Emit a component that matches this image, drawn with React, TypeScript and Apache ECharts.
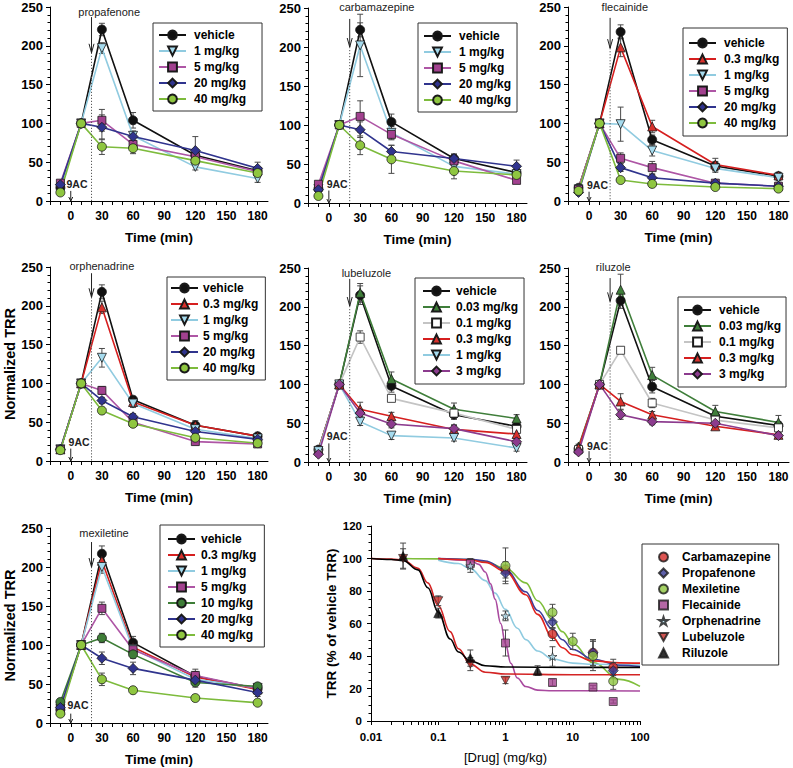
import React, { useEffect, useRef } from 'react';
import * as echarts from 'echarts';

// ---------- DATA ----------
const timePoints = [-10, 10, 30, 60, 120, 180];
const timeTickLabels = [0, 30, 60, 90, 120, 150, 180];
const timeTicks = [-20, -10, 0, 10, 20, 30, 40, 50, 60, 70, 80, 90, 100, 110, 120, 130, 140, 150, 160, 170, 180];

const propafenoneGroups = ['vehicle', '1 mg/kg', '5 mg/kg', '20 mg/kg', '40 mg/kg'];
const propafenoneValues = [
  [17, 100, 221, 104, 59, 39],
  [16, 100, 197, 84, 44, 29],
  [23, 100, 104, 73, 57, 38],
  [21, 100, 95, 83, 65, 42],
  [11, 100, 70, 68, 52, 36],
];
const propafenoneErrors = [
  [3, 0, 8, 10, 5, 5],
  [3, 0, 7, 6, 4, 5],
  [3, 0, 14, 7, 5, 5],
  [3, 0, 16, 7, 18, 8],
  [3, 0, 10, 7, 5, 5],
];

const carbamazepineGroups = ['vehicle', '1 mg/kg', '5 mg/kg', '20 mg/kg', '40 mg/kg'];
const carbamazepineValues = [
  [18, 100, 222, 104, 57, 39],
  [18, 100, 202, 90, 47, 37],
  [24, 100, 111, 88, 54, 29],
  [17, 100, 94, 66, 57, 47],
  [9, 100, 74, 56, 41, 36],
];
const carbamazepineErrors = [
  [3, 0, 9, 10, 6, 5],
  [3, 0, 40, 8, 5, 5],
  [3, 0, 20, 7, 5, 4],
  [3, 0, 10, 8, 5, 8],
  [3, 0, 12, 18, 10, 5],
];

const flecainideGroups = ['vehicle', '0.3 mg/kg', '1 mg/kg', '5 mg/kg', '20 mg/kg', '40 mg/kg'];
const flecainideValues = [
  [17, 100, 218, 79, 45, 32],
  [16, 100, 198, 96, 47, 33],
  [15, 100, 99, 65, 42, 30],
  [15, 100, 55, 43, 23, 19],
  [11, 100, 43, 30, 23, 19],
  [13, 100, 27, 22, 18, 16],
];
const flecainideErrors = [
  [3, 0, 9, 6, 6, 4],
  [3, 0, 12, 8, 8, 4],
  [3, 0, 22, 7, 5, 4],
  [3, 0, 7, 8, 3, 3],
  [3, 0, 5, 4, 3, 3],
  [3, 0, 3, 4, 3, 3],
];

const orphenadrineGroups = ['vehicle', '0.3 mg/kg', '1 mg/kg', '5 mg/kg', '20 mg/kg', '40 mg/kg'];
const orphenadrineValues = [
  [15, 100, 218, 79, 46, 32],
  [15, 100, 198, 76, 46, 32],
  [15, 100, 133, 74, 41, 29],
  [15, 100, 91, 50, 25, 22],
  [15, 100, 78, 57, 38, 28],
  [14, 100, 65, 48, 30, 23],
];
const orphenadrineErrors = [
  [3, 0, 9, 4, 4, 3],
  [3, 0, 8, 4, 6, 3],
  [3, 0, 12, 5, 4, 3],
  [3, 0, 5, 4, 4, 3],
  [3, 0, 4, 4, 4, 3],
  [3, 0, 4, 4, 4, 3],
];

const lubeluzoleGroups = ['vehicle', '0.03 mg/kg', '0.1 mg/kg', '0.3 mg/kg', '1 mg/kg', '3 mg/kg'];
const lubeluzoleValues = [
  [16, 100, 215, 98, 61, 46],
  [16, 100, 218, 107, 68, 56],
  [15, 100, 161, 82, 63, 42],
  [15, 100, 68, 59, 42, 36],
  [14, 100, 52, 34, 31, 18],
  [10, 100, 63, 49, 43, 26],
];
const lubeluzoleErrors = [
  [3, 0, 12, 8, 6, 5],
  [3, 0, 12, 9, 8, 5],
  [3, 0, 8, 4, 5, 5],
  [3, 0, 9, 5, 5, 4],
  [3, 0, 5, 5, 4, 4],
  [3, 0, 5, 5, 5, 4],
];

const riluzoleGroups = ['vehicle', '0.03 mg/kg', '0.1 mg/kg', '0.3 mg/kg', '3 mg/kg'];
const riluzoleValues = [
  [17, 100, 208, 97, 59, 47],
  [20, 100, 222, 112, 65, 51],
  [16, 100, 144, 76, 54, 44],
  [18, 100, 78, 61, 46, 35],
  [13, 100, 61, 52, 50, 34],
];
const riluzoleErrors = [
  [3, 0, 10, 8, 6, 5],
  [3, 0, 20, 10, 8, 9],
  [3, 0, 4, 6, 5, 5],
  [3, 0, 10, 4, 4, 3],
  [3, 0, 6, 4, 5, 3],
];

const mexiletineGroups = ['vehicle', '0.3 mg/kg', '1 mg/kg', '5 mg/kg', '10 mg/kg', '20 mg/kg', '40 mg/kg'];
const mexiletineValues = [
  [17, 100, 217, 103, 60, 44],
  [17, 100, 208, 97, 59, 43],
  [18, 100, 200, 95, 56, 45],
  [18, 100, 147, 94, 61, 44],
  [27, 100, 109, 88, 52, 47],
  [20, 100, 83, 70, 55, 39],
  [12, 100, 56, 42, 32, 26],
];
const mexiletineErrors = [
  [3, 0, 10, 8, 6, 4],
  [3, 0, 8, 6, 6, 4],
  [3, 0, 8, 6, 6, 4],
  [3, 0, 8, 6, 8, 4],
  [3, 0, 6, 5, 6, 4],
  [3, 0, 8, 8, 6, 5],
  [3, 0, 8, 4, 4, 3],
];

// dose-response points
const drugNames = ['Carbamazepine', 'Propafenone', 'Mexiletine', 'Flecainide', 'Orphenadrine', 'Lubeluzole', 'Riluzole'];
const carbamazepineDoses = [1, 5, 20, 40];
const carbamazepineTRR = [93, 53.5, 42, 33];
const carbamazepineSEM = [5, 4, 8, 5];
const propafenoneDoses = [1, 5, 20, 40];
const propafenoneTRR = [91, 61, 42, 31];
const propafenoneSEM = [5, 4, 8, 5];
const mexiletineDoses = [1, 5, 10, 20, 40];
const mexiletineTRR = [95.5, 66.8, 49, 40, 24.5];
const mexiletineSEM = [11, 5, 5, 9, 5];
const flecainideDoses = [0.3, 1, 5, 20, 40];
const flecainideTRR = [97, 48, 23.7, 20.9, 12];
const flecainideSEM = [3, 8, 2, 1, 1];
const orphenadrineDoses = [0.3, 1, 5];
const orphenadrineTRR = [95.5, 64.7, 39.7];
const orphenadrineSEM = [4, 3, 6];
const lubeluzoleDoses = [0.03, 0.1, 0.3, 1];
const lubeluzoleTRR = [100, 74, 35, 25];
const lubeluzoleSEM = [6, 3, 4, 2];
const riluzoleDoses = [0.03, 0.1, 0.3, 3];
const riluzoleTRR = [101.5, 66.4, 38.7, 31];
const riluzoleSEM = [8, 3, 5, 3];

// fitted curves
const carbamazepineFitDose = [0.1, 0.3, 0.5, 1, 2, 3, 5, 7, 10, 20, 50, 100];
const carbamazepineFitTRR = [100, 99.1, 97.6, 92, 77.7, 65.6, 51.6, 45.1, 40.8, 37, 35.8, 35.6];
const propafenoneFitDose = [0.1, 0.3, 0.5, 1, 2, 3, 5, 7, 10, 20, 50, 100];
const propafenoneFitTRR = [100, 99.5, 98.5, 93, 79.5, 68, 56.5, 50, 44, 38, 34.3, 33.5];
const mexiletineFitDose = [0.03, 0.1, 0.3, 0.5, 1, 2, 3, 5, 7, 10, 20, 50, 100];
const mexiletineFitTRR = [100, 99.8, 99.2, 98, 94, 85, 74, 62.5, 55, 47.5, 36, 25.6, 21.3];
const flecainideFitDose = [0.1, 0.3, 0.4, 0.5, 0.6, 0.7, 0.85, 1, 1.2, 1.5, 2, 3, 5, 100];
const flecainideFitTRR = [100, 98.8, 96.4, 91.7, 84.4, 75, 60, 47.3, 35.5, 26.5, 21.2, 19, 18.6, 18.5];
const orphenadrineFitDose = [0.1, 0.2, 0.3, 0.5, 0.7, 1, 1.5, 2, 3, 5, 10, 20, 100];
const orphenadrineFitTRR = [99, 96.9, 93.8, 86.4, 78.7, 68.7, 57.1, 50.1, 43.1, 38.2, 35.6, 34.9, 34.5];
const lubeluzoleFitDose = [0.01, 0.02, 0.03, 0.05, 0.07, 0.1, 0.15, 0.2, 0.3, 0.5, 1, 10, 100];
const lubeluzoleFitTRR = [100, 99.6, 99, 94, 85, 71, 55, 44.5, 35, 30, 28.9, 28.5, 28.5];
const riluzoleFitDose = [0.01, 0.02, 0.03, 0.05, 0.07, 0.1, 0.15, 0.2, 0.3, 0.5, 1, 10, 100];
const riluzoleFitTRR = [100, 99.4, 98.7, 93, 82, 67, 50.5, 42.5, 37, 34, 33.2, 33, 33];

const logTickLabels = [0.01, 0.1, 1, 10, 100];

// ---------- STYLES / LAYOUT ----------
const fontFamily = '"Liberation Sans", Arial, Helvetica, sans-serif';
const downTri = 'path://M0,0L10,0L5,9Z';
const star = 'path://M5,0L6.18,3.45L10,3.45L6.91,5.59L8.09,9.05L5,6.9L1.91,9.05L3.09,5.59L0,3.45L3.82,3.45Z';

const groupStyles: Record<string, any> = {
  'vehicle': { fill: '#111111', line: '#111111', symbol: 'circle', size: 9 },
  '0.03 mg/kg': { fill: '#3f7e3a', line: '#3f7e3a', symbol: 'triangle', size: 9 },
  '0.1 mg/kg': { fill: '#ffffff', line: '#c4c4c4', symbol: 'rect', size: 8 },
  '0.3 mg/kg': { fill: '#d8312c', line: '#d61f1f', symbol: 'triangle', size: 9 },
  '1 mg/kg': { fill: '#a6dbee', line: '#90cbe0', symbol: downTri, size: 9 },
  '3 mg/kg': { fill: '#8c3b8e', line: '#8c3b8e', symbol: 'diamond', size: 10 },
  '5 mg/kg': { fill: '#a2418f', line: '#ae56a5', symbol: 'rect', size: 8 },
  '10 mg/kg': { fill: '#3e7d37', line: '#3e7d37', symbol: 'circle', size: 9 },
  '20 mg/kg': { fill: '#30348e', line: '#30348e', symbol: 'diamond', size: 10 },
  '40 mg/kg': { fill: '#8fc640', line: '#7dbb3c', symbol: 'circle', size: 9 },
};

const drugStyles: Record<string, any> = {
  Carbamazepine: { fill: '#d52b27', line: '#e0231f', symbol: 'circle', size: 9 },
  Propafenone: { fill: '#343792', line: '#3d3f9c', symbol: 'diamond', size: 10 },
  Mexiletine: { fill: '#8dc63f', line: '#7fbe3b', symbol: 'circle', size: 9 },
  Flecainide: { fill: '#a3418f', line: '#a94a9f', symbol: 'rect', size: 8 },
  Orphenadrine: { fill: '#b3e0f0', line: '#8fcbe0', symbol: star, size: 9 },
  Lubeluzole: { fill: '#c42a26', line: '#d42424', symbol: downTri, size: 9 },
  Riluzole: { fill: '#000000', line: '#000000', symbol: 'triangle', size: 9 },
};

const panels = [
  { drug: 'propafenone', groups: propafenoneGroups, values: propafenoneValues, errors: propafenoneErrors,
    grid: { left: 50, top: 7, width: 218, height: 194 }, legend: { left: 153, top: 23, padding: [6, 16, 6, 5], textPad: 3 },
    label: [37, 244], arrow: [237, 191], nine: [6, 22, 13], yName: false },
  { drug: 'carbamazepine', groups: carbamazepineGroups, values: carbamazepineValues, errors: carbamazepineErrors,
    grid: { left: 308, top: 8, width: 219, height: 195 }, legend: { left: 418, top: 23, padding: [7, 6, 6, 5], textPad: 3 },
    label: [46, 251], arrow: [236, 200], nine: [8, 24, 16], yName: false },
  { drug: 'flecainide', groups: flecainideGroups, values: flecainideValues, errors: flecainideErrors,
    grid: { left: 568, top: 7, width: 221, height: 194 }, legend: { left: 683, top: 28, padding: [9, 8, 7, 5], textPad: 3 },
    label: [34, 250], arrow: [236, 197], nine: [8, 21, 12], yName: false },
  { drug: 'orphenadrine', groups: orphenadrineGroups, values: orphenadrineValues, errors: orphenadrineErrors,
    grid: { left: 50, top: 267, width: 218, height: 194 }, legend: { left: 167, top: 277, padding: [5, 7, 6, 3], textPad: 0 },
    label: [30, 251], arrow: [242, 211], nine: [8, 24, 16], yName: true },
  { drug: 'lubeluzole', groups: lubeluzoleGroups, values: lubeluzoleValues, errors: lubeluzoleErrors,
    grid: { left: 308, top: 268, width: 219, height: 194 }, legend: { left: 415, top: 278, padding: [7, 6, 7, 7], textPad: 1 },
    label: [36, 244], arrow: [236, 201], nine: [8, 33, 24], yName: false },
  { drug: 'riluzole', groups: riluzoleGroups, values: riluzoleValues, errors: riluzoleErrors,
    grid: { left: 568, top: 268, width: 221, height: 194 }, legend: { left: 678, top: 297, padding: [7, 5, 7, 5], textPad: 3 },
    label: [23, 251], arrow: [237, 207], nine: [8, 21, 14], yName: false },
  { drug: 'mexiletine', groups: mexiletineGroups, values: mexiletineValues, errors: mexiletineErrors,
    grid: { left: 50, top: 528, width: 218, height: 195 }, legend: { left: 160, top: 525, padding: [8, 8, 6, 7], textPad: 1 },
    label: [32, 244], arrow: [232, 200], nine: [7, 23, 12], yName: true },
];

const doseGrid = { left: 371, top: 526, width: 269, height: 195 };

function errorBarRender(params: any, api: any) {
  const x = api.value(0);
  const y = api.value(1);
  const e = api.value(2);
  if (!(e > 0)) return null;
  const top = api.coord([x, y + e]);
  const bot = api.coord([x, y - e]);
  const w = 3;
  const st = { stroke: '#4a4a4a', lineWidth: 1 };
  return {
    type: 'group',
    children: [
      { type: 'line', shape: { x1: top[0], y1: top[1], x2: bot[0], y2: bot[1] }, style: st },
      { type: 'line', shape: { x1: top[0] - w, y1: top[1], x2: top[0] + w, y2: top[1] }, style: st },
      { type: 'line', shape: { x1: bot[0] - w, y1: bot[1], x2: bot[0] + w, y2: bot[1] }, style: st },
    ],
  };
}

function annotationRender(p: any) {
  return (params: any, api: any) => {
    const top = api.coord([20, p.arrow[0]]);
    const tip = api.coord([20, p.arrow[1]]);
    const base = api.coord([20, 0]);
    const lab = api.coord([p.label[0], p.label[1]]);
    const a0 = api.coord([0, p.nine[2]]);
    const a1 = api.coord([0, 0]);
    const nl = api.coord([p.nine[0], p.nine[1]]);
    const ink = { stroke: '#222', lineWidth: 1, fill: 'none' };
    return {
      type: 'group',
      children: [
        { type: 'line', shape: { x1: tip[0], y1: tip[1], x2: base[0], y2: base[1] }, style: { stroke: '#555', lineWidth: 1, lineDash: [1.2, 1.8] } },
        { type: 'line', shape: { x1: top[0], y1: top[1], x2: tip[0], y2: tip[1] }, style: ink },
        { type: 'polyline', shape: { points: [[tip[0] - 2.5, tip[1] - 9], [tip[0], tip[1]], [tip[0] + 2.5, tip[1] - 9]] }, style: ink },
        { type: 'text', x: lab[0], y: lab[1], style: { text: p.drug, fontSize: 11, fontFamily, fill: '#222', align: 'center', verticalAlign: 'middle' } },
        { type: 'line', shape: { x1: a0[0], y1: a0[1], x2: a1[0], y2: a1[1] }, style: ink },
        { type: 'polyline', shape: { points: [[a1[0] - 2, a1[1] - 4], [a1[0], a1[1]], [a1[0] + 2, a1[1] - 4]] }, style: ink },
        { type: 'text', x: nl[0], y: nl[1], style: { text: '9AC', fontSize: 10.5, fontWeight: 'bold', fontFamily, fill: '#222', align: 'center', verticalAlign: 'middle' } },
      ],
    };
  };
}

function buildOption() {
  const grid: any[] = [];
  const xAxis: any[] = [];
  const yAxis: any[] = [];
  const series: any[] = [];
  const legend: any[] = [];
  const axisLine = { show: true, onZero: false, lineStyle: { color: '#000', width: 1 } };
  const tickLine = { color: '#000', width: 1 };

  panels.forEach((p, i) => {
    grid.push({ ...p.grid, containLabel: false });
    xAxis.push({
      type: 'value', gridIndex: i, min: -20, max: 190,
      axisLine, axisTick: { show: true, length: 4, customValues: timeTicks, lineStyle: tickLine },
      axisLabel: { customValues: timeTickLabels, fontSize: 12, fontWeight: 'bold', color: '#000', margin: 9, fontFamily },
      splitLine: { show: false },
      name: 'Time (min)', nameLocation: 'middle', nameGap: 29,
      nameTextStyle: { fontSize: 13.5, fontWeight: 'bold', color: '#000', fontFamily },
    });
    yAxis.push({
      type: 'value', gridIndex: i, min: 0, max: 250, interval: 50,
      axisLine, axisTick: { show: true, length: 4, lineStyle: tickLine },
      minorTick: { show: true, splitNumber: 5, length: 2.5, lineStyle: tickLine },
      axisLabel: { fontSize: 13, fontWeight: 'bold', color: '#000', margin: 7, fontFamily },
      splitLine: { show: false }, minorSplitLine: { show: false },
      name: p.yName ? 'Normalized TRR' : '', nameLocation: 'middle', nameGap: 30, nameRotate: 90,
      nameTextStyle: { fontSize: 14.5, fontWeight: 'bold', color: '#000', fontFamily },
    });
    const errData: any[] = [];
    p.groups.forEach((g, gi) => {
      const st = groupStyles[g];
      p.values[gi].forEach((v, k) => errData.push([timePoints[k], v, p.errors[gi][k]]));
      series.push({
        type: 'line', name: p.drug + '|' + g, xAxisIndex: i, yAxisIndex: i,
        data: timePoints.map((t, k) => [t, p.values[gi][k]]),
        symbol: st.symbol, symbolSize: st.size, showSymbol: true,
        itemStyle: { color: st.fill, borderColor: '#1a1a1a', borderWidth: 0.8 },
        lineStyle: { color: st.line, width: 1.6 },
        z: 2, silent: true,
      });
    });
    series.push({
      type: 'custom', name: 'err-' + p.drug, xAxisIndex: i, yAxisIndex: i,
      data: errData, renderItem: errorBarRender, z: 1, silent: true, clip: false,
      encode: { x: 0, y: 1 },
    });
    series.push({
      type: 'custom', name: 'note-' + p.drug, xAxisIndex: i, yAxisIndex: i,
      data: [[20, 0]], renderItem: annotationRender(p), z: 5, silent: true, clip: false,
      encode: { x: 0, y: 1 },
    });
    legend.push({
      orient: 'vertical', left: p.legend.left, top: p.legend.top,
      data: p.groups.map((g) => p.drug + '|' + g),
      formatter: (n: string) => n.split('|')[1],
      itemWidth: 27, itemHeight: 11, itemGap: 4,
      padding: p.legend.padding, borderColor: '#333', borderWidth: 1, borderRadius: 0,
      selectedMode: false,
      textStyle: { fontSize: 12, fontWeight: 'bold', color: '#000', fontFamily, lineHeight: 11, padding: [0, 0, 0, p.legend.textPad] },
    });
  });

  // dose-response panel
  const di = panels.length;
  grid.push({ ...doseGrid, containLabel: false });
  const logTicks: number[] = [];
  [0.01, 0.1, 1, 10].forEach((d) => { for (let m = 1; m <= 9; m++) logTicks.push(Number((d * m).toPrecision(3))); });
  logTicks.push(100);
  xAxis.push({
    type: 'log', logBase: 10, gridIndex: di, min: 0.01, max: 100,
    axisLine, axisTick: { show: true, length: 4, customValues: logTicks, lineStyle: tickLine },
    axisLabel: { customValues: logTickLabels, fontSize: 11.5, fontWeight: 'bold', color: '#000', margin: 10, fontFamily,
      formatter: (v: number) => String(Number(Number(v).toPrecision(4))) },
    splitLine: { show: false }, minorTick: { show: false },
    name: '[Drug] (mg/kg)', nameLocation: 'middle', nameGap: 30,
    nameTextStyle: { fontSize: 13, fontWeight: 'normal', color: '#000', fontFamily },
  });
  yAxis.push({
    type: 'value', gridIndex: di, min: 0, max: 120, interval: 20,
    axisLine, axisTick: { show: true, length: 4, lineStyle: tickLine },
    minorTick: { show: true, splitNumber: 4, length: 2.5, lineStyle: tickLine },
    axisLabel: { fontSize: 11.5, fontWeight: 'bold', color: '#000', margin: 9, fontFamily },
    splitLine: { show: false }, minorSplitLine: { show: false },
    name: 'TRR (% of vehicle TRR)', nameLocation: 'middle', nameGap: 33, nameRotate: 90,
    nameTextStyle: { fontSize: 13.5, fontWeight: 'bold', color: '#000', fontFamily },
  });

  const points: Record<string, [number[], number[], number[]]> = {
    Carbamazepine: [carbamazepineDoses, carbamazepineTRR, carbamazepineSEM],
    Propafenone: [propafenoneDoses, propafenoneTRR, propafenoneSEM],
    Mexiletine: [mexiletineDoses, mexiletineTRR, mexiletineSEM],
    Flecainide: [flecainideDoses, flecainideTRR, flecainideSEM],
    Orphenadrine: [orphenadrineDoses, orphenadrineTRR, orphenadrineSEM],
    Lubeluzole: [lubeluzoleDoses, lubeluzoleTRR, lubeluzoleSEM],
    Riluzole: [riluzoleDoses, riluzoleTRR, riluzoleSEM],
  };
  const fits: Record<string, [number[], number[]]> = {
    Carbamazepine: [carbamazepineFitDose, carbamazepineFitTRR],
    Propafenone: [propafenoneFitDose, propafenoneFitTRR],
    Mexiletine: [mexiletineFitDose, mexiletineFitTRR],
    Flecainide: [flecainideFitDose, flecainideFitTRR],
    Orphenadrine: [orphenadrineFitDose, orphenadrineFitTRR],
    Lubeluzole: [lubeluzoleFitDose, lubeluzoleFitTRR],
    Riluzole: [riluzoleFitDose, riluzoleFitTRR],
  };
  const fitOrder = ['Mexiletine', 'Orphenadrine', 'Flecainide', 'Propafenone', 'Carbamazepine', 'Lubeluzole', 'Riluzole'];
  fitOrder.forEach((d) => {
    const [xs, ys] = fits[d];
    series.push({
      type: 'line', name: 'fit|' + d, xAxisIndex: di, yAxisIndex: di,
      data: xs.map((x, k) => [x, ys[k]]), smooth: 0.4, smoothMonotone: 'x',
      showSymbol: false, symbol: 'none', lineStyle: { color: drugStyles[d].line, width: 1.6 }, z: 2, silent: true,
    });
  });
  const drErr: any[] = [];
  const pointOrder = ['Carbamazepine', 'Propafenone', 'Flecainide', 'Orphenadrine', 'Lubeluzole', 'Riluzole', 'Mexiletine'];
  pointOrder.forEach((d) => {
    const [xs, ys, es] = points[d];
    xs.forEach((x, k) => drErr.push([x, ys[k], es[k]]));
  });
  series.push({
    type: 'custom', name: 'err-dose', xAxisIndex: di, yAxisIndex: di,
    data: drErr, renderItem: errorBarRender, z: 3, silent: true, clip: false, encode: { x: 0, y: 1 },
  });
  pointOrder.forEach((d) => {
    const [xs, ys] = points[d];
    const st = drugStyles[d];
    series.push({
      type: 'scatter', name: 'dr|' + d, xAxisIndex: di, yAxisIndex: di,
      data: xs.map((x, k) => [x, ys[k]]),
      symbol: st.symbol, symbolSize: st.size, symbolKeepAspect: true,
      itemStyle: { color: st.fill, borderColor: '#1a1a1a', borderWidth: 0.8 },
      z: 4, silent: true,
    });
  });
  legend.push({
    orient: 'vertical', left: 642, top: 544,
    data: drugNames.map((d) => 'dr|' + d),
    formatter: (n: string) => n.split('|')[1],
    itemWidth: 9, itemHeight: 9, itemGap: 4,
    padding: [7, 8, 6, 16], borderColor: '#333', borderWidth: 1, borderRadius: 0,
    selectedMode: false,
    textStyle: { fontSize: 12, fontWeight: 'bold', color: '#000', fontFamily, lineHeight: 11, padding: [0, 0, 0, 9] },
  });

  return {
    animation: false,
    backgroundColor: '#ffffff',
    textStyle: { fontFamily },
    grid, xAxis, yAxis, series, legend,
  };
}

export default function App() {
  const ref = useRef<HTMLDivElement>(null);
  useEffect(() => {
    if (!ref.current) return;
    const chart = echarts.init(ref.current, null, { renderer: 'svg' });
    chart.setOption(buildOption() as any);
    return () => chart.dispose();
  }, []);
  return (
    <div
      ref={ref}
      style={{ position: 'absolute', left: 0, top: 0, width: 793, height: 768, background: '#fff' }}
    />
  );
}
